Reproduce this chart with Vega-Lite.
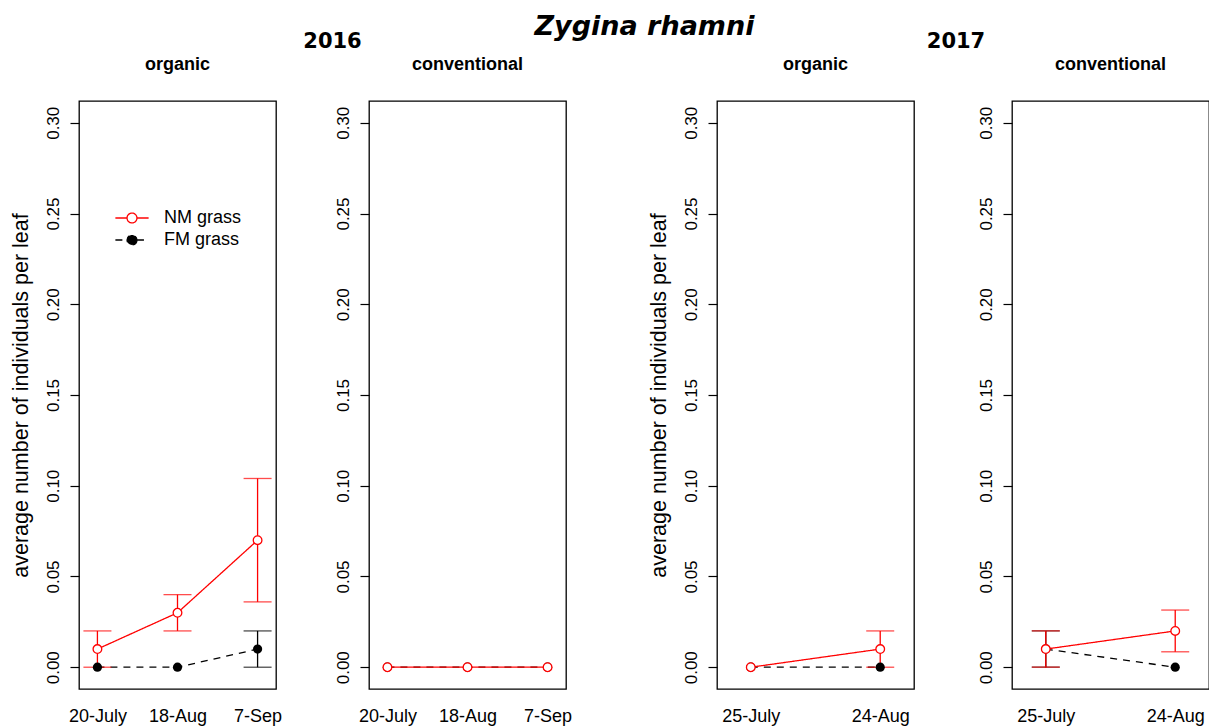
{
  "$schema": "https://vega.github.io/schema/vega-lite/v6.json",
  "padding": {"left": 9, "top": 13, "right": 0, "bottom": 0},
  "background": "white",
  "data": {
    "values": [
      {"year": 2016, "system": "organic", "group": "FM grass", "date": "20-July", "mean": 0, "lo": null, "hi": null},
      {"year": 2016, "system": "organic", "group": "FM grass", "date": "18-Aug", "mean": 0, "lo": null, "hi": null},
      {"year": 2016, "system": "organic", "group": "FM grass", "date": "7-Sep", "mean": 0.01, "lo": 0, "hi": 0.02},
      {"year": 2016, "system": "conventional", "group": "FM grass", "date": "20-July", "mean": 0, "lo": null, "hi": null},
      {"year": 2016, "system": "conventional", "group": "FM grass", "date": "18-Aug", "mean": 0, "lo": null, "hi": null},
      {"year": 2016, "system": "conventional", "group": "FM grass", "date": "7-Sep", "mean": 0, "lo": null, "hi": null},
      {"year": 2017, "system": "organic", "group": "FM grass", "date": "25-July", "mean": 0, "lo": null, "hi": null},
      {"year": 2017, "system": "organic", "group": "FM grass", "date": "24-Aug", "mean": 0, "lo": null, "hi": null},
      {"year": 2017, "system": "conventional", "group": "FM grass", "date": "25-July", "mean": 0.01, "lo": 0, "hi": 0.02},
      {"year": 2017, "system": "conventional", "group": "FM grass", "date": "24-Aug", "mean": 0, "lo": null, "hi": null},
      {"year": 2016, "system": "organic", "group": "NM grass", "date": "20-July", "mean": 0.01, "lo": 0, "hi": 0.02},
      {"year": 2016, "system": "organic", "group": "NM grass", "date": "18-Aug", "mean": 0.03, "lo": 0.02, "hi": 0.04},
      {"year": 2016, "system": "organic", "group": "NM grass", "date": "7-Sep", "mean": 0.07, "lo": 0.036, "hi": 0.104},
      {"year": 2016, "system": "conventional", "group": "NM grass", "date": "20-July", "mean": 0, "lo": null, "hi": null},
      {"year": 2016, "system": "conventional", "group": "NM grass", "date": "18-Aug", "mean": 0, "lo": null, "hi": null},
      {"year": 2016, "system": "conventional", "group": "NM grass", "date": "7-Sep", "mean": 0, "lo": null, "hi": null},
      {"year": 2017, "system": "organic", "group": "NM grass", "date": "25-July", "mean": 0, "lo": null, "hi": null},
      {"year": 2017, "system": "organic", "group": "NM grass", "date": "24-Aug", "mean": 0.01, "lo": 0, "hi": 0.02},
      {"year": 2017, "system": "conventional", "group": "NM grass", "date": "25-July", "mean": 0.01, "lo": 0, "hi": 0.02},
      {"year": 2017, "system": "conventional", "group": "NM grass", "date": "24-Aug", "mean": 0.02, "lo": 0.0085, "hi": 0.0315}
    ]
  },
  "hconcat": [
    {
      "width": 197, "height": 588,
      "title": {"text": "organic"},
      "transform": [{"filter": "datum.year === 2016 && datum.system === 'organic'"}],
      "encoding": {
        "x": {"field": "date", "type": "ordinal", "title": null, "scale": {"type": "point", "domain": ["20-July", "18-Aug", "7-Sep"], "padding": 0.23}},
        "y": {"field": "mean", "type": "quantitative", "title": "average number of individuals per leaf", "scale": {"domain": [-0.012, 0.312], "nice": false, "zero": false}, "axis": {"values": [0, 0.05, 0.1, 0.15, 0.2, 0.25, 0.3], "format": ".2f"}}
      },
      "layer": [
        {
          "mark": {"type": "line", "strokeWidth": 1.3},
          "encoding": {
            "color": {"field": "group", "type": "nominal", "scale": {"domain": ["NM grass", "FM grass"], "range": ["#ff0000", "#000000"]},
              "legend": {"title": null, "orient": "none", "legendX": 41, "legendY": 105, "direction": "vertical",
                "symbolType": "M-1.51,0L-0.45,0M0.45,0L1.51,0M0.45,0A0.45,0.45,0,1,1,-0.45,0A0.45,0.45,0,1,1,0.45,0",
                "symbolSize": 484, "symbolStrokeWidth": 1.3, "labelFontSize": 18, "labelOffset": 20, "rowPadding": 1, "labelColor": "black",
                "encode": {"symbols": {"update": {"fill": {"signal": "datum.value === 'FM grass' ? 'black' : 'white'"}}}}}},
            "strokeDash": {"field": "group", "type": "nominal", "scale": {"domain": ["NM grass", "FM grass"], "range": [[1, 0], [7, 6]]},
              "legend": {"title": null, "orient": "none", "legendX": 41, "legendY": 105, "direction": "vertical",
                "symbolType": "M-1.51,0L-0.45,0M0.45,0L1.51,0M0.45,0A0.45,0.45,0,1,1,-0.45,0A0.45,0.45,0,1,1,0.45,0",
                "symbolSize": 484, "symbolStrokeWidth": 1.3, "labelFontSize": 18, "labelOffset": 20, "rowPadding": 1, "labelColor": "black",
                "encode": {"symbols": {"update": {"fill": {"signal": "datum.value === 'FM grass' ? 'black' : 'white'"}}}}}}
          }
        },
        {"transform": [{"filter": "datum.group === 'FM grass'"}], "mark": {"type": "rule", "color": "black", "strokeWidth": 1.3},
          "encoding": {"y": {"field": "lo", "type": "quantitative", "title": "average number of individuals per leaf"}, "y2": {"field": "hi"}}},
        {"transform": [{"filter": "datum.group === 'FM grass'"}, {"fold": ["lo", "hi"], "as": ["end", "v"]}], "mark": {"type": "tick", "orient": "horizontal", "color": "black", "size": 28, "thickness": 1.3},
          "encoding": {"y": {"field": "v", "type": "quantitative", "title": "average number of individuals per leaf"}}},
        {"transform": [{"filter": "datum.group === 'NM grass'"}], "mark": {"type": "rule", "color": "#ff0000", "strokeWidth": 1.3},
          "encoding": {"y": {"field": "lo", "type": "quantitative", "title": "average number of individuals per leaf"}, "y2": {"field": "hi"}}},
        {"transform": [{"filter": "datum.group === 'NM grass'"}, {"fold": ["lo", "hi"], "as": ["end", "v"]}], "mark": {"type": "tick", "orient": "horizontal", "color": "#ff0000", "size": 28, "thickness": 1.3},
          "encoding": {"y": {"field": "v", "type": "quantitative", "title": "average number of individuals per leaf"}}},
        {"transform": [{"filter": "datum.group === 'FM grass'"}], "mark": {"type": "point", "shape": "circle", "filled": true, "color": "black", "size": 85, "opacity": 1}},
        {"transform": [{"filter": "datum.group === 'NM grass'"}], "mark": {"type": "point", "shape": "circle", "filled": true, "fill": "white", "stroke": "#ff0000", "strokeWidth": 1.3, "size": 75, "opacity": 1}}
      ]
    },
    {
      "width": 93, "height": 588,
      "data": {"values": []},
      "view": {"stroke": null},
      "title": {"text": "2016", "font": "DejaVu Sans", "fontSize": 21, "fontWeight": "bold", "dx": 10, "offset": 49},
      "mark": {"type": "point", "opacity": 0}
    },
    {
      "width": 197, "height": 588,
      "title": {"text": "conventional"},
      "transform": [{"filter": "datum.year === 2016 && datum.system === 'conventional'"}],
      "encoding": {
        "x": {"field": "date", "type": "ordinal", "title": null, "scale": {"type": "point", "domain": ["20-July", "18-Aug", "7-Sep"], "padding": 0.23}},
        "y": {"field": "mean", "type": "quantitative", "title": null, "scale": {"domain": [-0.012, 0.312], "nice": false, "zero": false}, "axis": {"values": [0, 0.05, 0.1, 0.15, 0.2, 0.25, 0.3], "format": ".2f"}}
      },
      "layer": [
        {
          "mark": {"type": "line", "strokeWidth": 1.3},
          "encoding": {
            "color": {"field": "group", "type": "nominal", "scale": {"domain": ["NM grass", "FM grass"], "range": ["#ff0000", "#000000"]}, "legend": null},
            "strokeDash": {"field": "group", "type": "nominal", "scale": {"domain": ["NM grass", "FM grass"], "range": [[1, 0], [7, 6]]}, "legend": null}
          }
        },
        {"transform": [{"filter": "datum.group === 'FM grass'"}], "mark": {"type": "rule", "color": "black", "strokeWidth": 1.3},
          "encoding": {"y": {"field": "lo", "type": "quantitative", "title": null}, "y2": {"field": "hi"}}},
        {"transform": [{"filter": "datum.group === 'FM grass'"}, {"fold": ["lo", "hi"], "as": ["end", "v"]}], "mark": {"type": "tick", "orient": "horizontal", "color": "black", "size": 28, "thickness": 1.3},
          "encoding": {"y": {"field": "v", "type": "quantitative", "title": null}}},
        {"transform": [{"filter": "datum.group === 'NM grass'"}], "mark": {"type": "rule", "color": "#ff0000", "strokeWidth": 1.3},
          "encoding": {"y": {"field": "lo", "type": "quantitative", "title": null}, "y2": {"field": "hi"}}},
        {"transform": [{"filter": "datum.group === 'NM grass'"}, {"fold": ["lo", "hi"], "as": ["end", "v"]}], "mark": {"type": "tick", "orient": "horizontal", "color": "#ff0000", "size": 28, "thickness": 1.3},
          "encoding": {"y": {"field": "v", "type": "quantitative", "title": null}}},
        {"transform": [{"filter": "datum.group === 'FM grass'"}], "mark": {"type": "point", "shape": "circle", "filled": true, "color": "black", "size": 85, "opacity": 1}},
        {"transform": [{"filter": "datum.group === 'NM grass'"}], "mark": {"type": "point", "shape": "circle", "filled": true, "fill": "white", "stroke": "#ff0000", "strokeWidth": 1.3, "size": 75, "opacity": 1}}
      ]
    },
    {
      "width": 151, "height": 588,
      "data": {"values": []},
      "view": {"stroke": null},
      "title": {"text": "Zygina rhamni", "font": "DejaVu Sans", "fontSize": 27, "fontWeight": "bold", "fontStyle": "italic", "dx": 3, "offset": 60},
      "mark": {"type": "point", "opacity": 0}
    },
    {
      "width": 197, "height": 588,
      "title": {"text": "organic"},
      "transform": [{"filter": "datum.year === 2017 && datum.system === 'organic'"}],
      "encoding": {
        "x": {"field": "date", "type": "ordinal", "title": null, "scale": {"type": "point", "domain": ["25-July", "24-Aug"], "padding": 0.261}},
        "y": {"field": "mean", "type": "quantitative", "title": "average number of individuals per leaf", "scale": {"domain": [-0.012, 0.312], "nice": false, "zero": false}, "axis": {"values": [0, 0.05, 0.1, 0.15, 0.2, 0.25, 0.3], "format": ".2f"}}
      },
      "layer": [
        {
          "mark": {"type": "line", "strokeWidth": 1.3},
          "encoding": {
            "color": {"field": "group", "type": "nominal", "scale": {"domain": ["NM grass", "FM grass"], "range": ["#ff0000", "#000000"]}, "legend": null},
            "strokeDash": {"field": "group", "type": "nominal", "scale": {"domain": ["NM grass", "FM grass"], "range": [[1, 0], [7, 6]]}, "legend": null}
          }
        },
        {"transform": [{"filter": "datum.group === 'FM grass'"}], "mark": {"type": "rule", "color": "black", "strokeWidth": 1.3},
          "encoding": {"y": {"field": "lo", "type": "quantitative", "title": "average number of individuals per leaf"}, "y2": {"field": "hi"}}},
        {"transform": [{"filter": "datum.group === 'FM grass'"}, {"fold": ["lo", "hi"], "as": ["end", "v"]}], "mark": {"type": "tick", "orient": "horizontal", "color": "black", "size": 28, "thickness": 1.3},
          "encoding": {"y": {"field": "v", "type": "quantitative", "title": "average number of individuals per leaf"}}},
        {"transform": [{"filter": "datum.group === 'NM grass'"}], "mark": {"type": "rule", "color": "#ff0000", "strokeWidth": 1.3},
          "encoding": {"y": {"field": "lo", "type": "quantitative", "title": "average number of individuals per leaf"}, "y2": {"field": "hi"}}},
        {"transform": [{"filter": "datum.group === 'NM grass'"}, {"fold": ["lo", "hi"], "as": ["end", "v"]}], "mark": {"type": "tick", "orient": "horizontal", "color": "#ff0000", "size": 28, "thickness": 1.3},
          "encoding": {"y": {"field": "v", "type": "quantitative", "title": "average number of individuals per leaf"}}},
        {"transform": [{"filter": "datum.group === 'FM grass'"}], "mark": {"type": "point", "shape": "circle", "filled": true, "color": "black", "size": 85, "opacity": 1}},
        {"transform": [{"filter": "datum.group === 'NM grass'"}], "mark": {"type": "point", "shape": "circle", "filled": true, "fill": "white", "stroke": "#ff0000", "strokeWidth": 1.3, "size": 75, "opacity": 1}}
      ]
    },
    {
      "width": 98, "height": 588,
      "data": {"values": []},
      "view": {"stroke": null},
      "title": {"text": "2017", "font": "DejaVu Sans", "fontSize": 21, "fontWeight": "bold", "dx": -7, "offset": 49},
      "mark": {"type": "point", "opacity": 0}
    },
    {
      "width": 197, "height": 588,
      "title": {"text": "conventional"},
      "transform": [{"filter": "datum.year === 2017 && datum.system === 'conventional'"}],
      "encoding": {
        "x": {"field": "date", "type": "ordinal", "title": null, "scale": {"type": "point", "domain": ["25-July", "24-Aug"], "padding": 0.261}},
        "y": {"field": "mean", "type": "quantitative", "title": null, "scale": {"domain": [-0.012, 0.312], "nice": false, "zero": false}, "axis": {"values": [0, 0.05, 0.1, 0.15, 0.2, 0.25, 0.3], "format": ".2f"}}
      },
      "layer": [
        {
          "mark": {"type": "line", "strokeWidth": 1.3},
          "encoding": {
            "color": {"field": "group", "type": "nominal", "scale": {"domain": ["NM grass", "FM grass"], "range": ["#ff0000", "#000000"]}, "legend": null},
            "strokeDash": {"field": "group", "type": "nominal", "scale": {"domain": ["NM grass", "FM grass"], "range": [[1, 0], [7, 6]]}, "legend": null}
          }
        },
        {"transform": [{"filter": "datum.group === 'FM grass'"}], "mark": {"type": "rule", "color": "black", "strokeWidth": 1.3},
          "encoding": {"y": {"field": "lo", "type": "quantitative", "title": null}, "y2": {"field": "hi"}}},
        {"transform": [{"filter": "datum.group === 'FM grass'"}, {"fold": ["lo", "hi"], "as": ["end", "v"]}], "mark": {"type": "tick", "orient": "horizontal", "color": "black", "size": 28, "thickness": 1.3},
          "encoding": {"y": {"field": "v", "type": "quantitative", "title": null}}},
        {"transform": [{"filter": "datum.group === 'NM grass'"}], "mark": {"type": "rule", "color": "#ff0000", "strokeWidth": 1.3},
          "encoding": {"y": {"field": "lo", "type": "quantitative", "title": null}, "y2": {"field": "hi"}}},
        {"transform": [{"filter": "datum.group === 'NM grass'"}, {"fold": ["lo", "hi"], "as": ["end", "v"]}], "mark": {"type": "tick", "orient": "horizontal", "color": "#ff0000", "size": 28, "thickness": 1.3},
          "encoding": {"y": {"field": "v", "type": "quantitative", "title": null}}},
        {"transform": [{"filter": "datum.group === 'FM grass'"}], "mark": {"type": "point", "shape": "circle", "filled": true, "color": "black", "size": 85, "opacity": 1}},
        {"transform": [{"filter": "datum.group === 'NM grass'"}], "mark": {"type": "point", "shape": "circle", "filled": true, "fill": "white", "stroke": "#ff0000", "strokeWidth": 1.3, "size": 75, "opacity": 1}}
      ]
    }
  ],
  "spacing": 0,
  "bounds": "flush",
  "config": {
    "font": "Liberation Sans",
    "view": {"stroke": "black", "strokeWidth": 1.3},
    "title": {"font": "Liberation Sans", "fontSize": 18, "fontWeight": "bold", "color": "black", "anchor": "middle", "offset": 27},
    "axisY": {"labelAngle": 270, "labelAlign": "center", "labelBaseline": "bottom", "labelFontSize": 17, "labelPadding": 8, "labelColor": "black",
      "tickSize": 9, "tickColor": "black", "tickWidth": 1.2, "domain": false, "grid": false,
      "titleFontSize": 21.5, "titleFontWeight": "normal", "titleColor": "black", "titlePadding": 12},
    "axisX": {"labelAngle": 0, "labelFontSize": 18, "labelPadding": 18, "labelColor": "black", "ticks": false, "tickSize": 0, "domain": false, "grid": false}
  }
}
